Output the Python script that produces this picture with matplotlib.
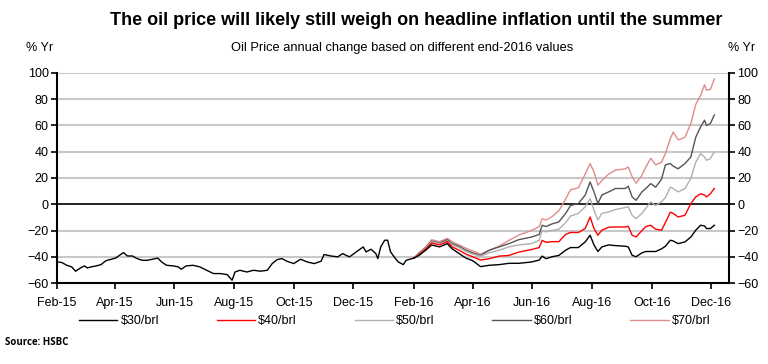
import pandas as pd
import matplotlib.pyplot as plt
import matplotlib.dates as mdates

plt.rcParams['font.family'] = ['Liberation Sans', 'DejaVu Sans']

# historia 2015 - styczeń 2016 (tylko seria $30/brl jest widoczna)
hist_dates = ["2015-02-01", "2015-02-06", "2015-02-11", "2015-02-16", "2015-02-20", "2015-02-24",
              "2015-03-01", "2015-03-04", "2015-03-08", "2015-03-13", "2015-03-18", "2015-03-23",
              "2015-03-28", "2015-04-02", "2015-04-05", "2015-04-10", "2015-04-14", "2015-04-19",
              "2015-04-24", "2015-04-29", "2015-05-04", "2015-05-09", "2015-05-15", "2015-05-19",
              "2015-05-24", "2015-05-31", "2015-06-05", "2015-06-08", "2015-06-13", "2015-06-20",
              "2015-06-27", "2015-07-04", "2015-07-11", "2015-07-18", "2015-07-25", "2015-07-30",
              "2015-08-02", "2015-08-07", "2015-08-14", "2015-08-21", "2015-08-28", "2015-09-04",
              "2015-09-09", "2015-09-14", "2015-09-19", "2015-09-24", "2015-10-01", "2015-10-08",
              "2015-10-15", "2015-10-22", "2015-10-29", "2015-11-01", "2015-11-08", "2015-11-15",
              "2015-11-20", "2015-11-27", "2015-12-04", "2015-12-11", "2015-12-14", "2015-12-19",
              "2015-12-24", "2015-12-26", "2015-12-29", "2016-01-02", "2016-01-05", "2016-01-08",
              "2016-01-13", "2016-01-16", "2016-01-21", "2016-01-24", "2016-01-30"]
hist_values = [-43.9, -44.4, -46.5, -47.7, -51, -49,
               -47, -48.5, -47.7, -47, -46, -43,
               -42, -41, -39.4, -36.8, -39.4, -39.4,
               -41.4, -42.7, -42.7, -42, -41, -44,
               -46.5, -47, -47.7, -49.5, -47, -46.5,
               -47.7, -50.3, -52.8, -52.8, -53.6, -57.9,
               -51.6, -50.3, -51.6, -50.3, -51, -50.3,
               -45.2, -42.2, -41.4, -43.4, -45.2, -41.9,
               -44, -45.2, -43.4, -38.3, -39.4, -40.1,
               -37.6, -40.1, -36.3, -32.5, -36.3, -34.3,
               -37.6, -41.4, -32.5, -27.4, -27.4, -36.3,
               -41.4, -44, -46, -42.7, -41.4]

# scenariusze od lutego 2016
dates_16 = ["2016-02-01", "2016-02-06", "2016-02-13", "2016-02-19", "2016-02-27", "2016-03-06",
            "2016-03-11", "2016-03-18", "2016-03-25", "2016-04-01", "2016-04-09", "2016-04-18",
            "2016-04-28", "2016-05-08", "2016-05-18", "2016-05-31", "2016-06-08", "2016-06-11",
            "2016-06-15", "2016-06-21", "2016-06-28", "2016-07-05", "2016-07-10", "2016-07-18",
            "2016-07-25", "2016-07-30", "2016-08-03", "2016-08-07", "2016-08-11", "2016-08-18",
            "2016-08-25", "2016-09-04", "2016-09-07", "2016-09-11", "2016-09-15", "2016-09-21",
            "2016-09-25", "2016-09-30", "2016-10-05", "2016-10-11", "2016-10-15", "2016-10-20",
            "2016-10-23", "2016-10-28", "2016-11-04", "2016-11-10", "2016-11-15", "2016-11-20",
            "2016-11-24", "2016-11-26", "2016-11-30", "2016-12-04"]
brl30 = [-41, -39, -35, -31, -32.5, -30, -34, -37.5, -41, -43, -47.5, -46.5,
         -46, -45, -45, -44, -42.5, -39.5, -41.5, -40, -39, -35, -33, -33,
         -28.7, -23.6, -31, -36, -32.5, -31, -31.5, -32, -32.5, -38.9, -40, -37,
         -36, -36, -36, -34, -32, -27.4, -28, -30, -28.7, -25, -19.8, -16,
         -16.5, -18.5, -18.5, -16]
brl40 = [-41, -38.5, -34, -29.5, -31, -28.5, -32.5, -35, -38, -40, -42.5, -41.5,
         -39.5, -39, -36.5, -34.5, -33, -27.5, -29, -28.5, -28.5, -23, -21.5, -21.5,
         -18.5, -9.7, -18.5, -23.6, -19.8, -17.5, -17.3, -17.3, -16.8, -23.6, -25, -20,
         -17, -16, -19, -19.8, -14, -6, -7, -9.7, -8.4, 0.5, 5.6, 8,
         7, 5.6, 8, 12]
brl50 = [-41, -38, -33, -28.5, -30, -28, -31, -33, -36, -38, -39.5, -37,
         -35, -32.5, -31, -30, -27.5, -20, -21, -20, -19, -14, -9, -7,
         -2, 4.3, -4.6, -12, -7, -5.8, -4, -2.5, -2, -8.4, -11, -7,
         -3, 1.8, -1, 2, 5, 13, 12, 9.4, 12, 19.6, 32, 38.6,
         36, 33.5, 34.8, 40]
brl60 = [-41, -37.5, -33, -28, -29.5, -27, -30, -32, -35, -37, -39, -35,
         -32.5, -30, -27, -25, -23, -16, -17, -15, -13.5, -7, -1, 0.5,
         7, 17, 9.4, 0.5, 7, 9.4, 12, 12, 13.7, 5.6, 3, 9.4,
         12, 15.7, 13, 19, 30, 31, 29, 27, 31, 36, 51, 59,
         64, 60, 61.5, 68]
brl70 = [-41, -37, -32.5, -27, -28.5, -26, -28.5, -31, -33.5, -35.5, -38, -35,
         -32, -27.5, -23.5, -20, -17, -11, -12, -9.5, -5, 4, 11, 12.5,
         23, 31, 24.6, 14.5, 18, 23, 26, 27, 28.4, 21, 16, 22,
         28.4, 35, 30, 32, 38.6, 50, 55, 49, 51, 61.5, 76, 83,
         91, 87, 87.5, 95.5]

labels = ["$30/brl", "$40/brl", "$50/brl", "$60/brl", "$70/brl"]
colors = ["#000000", "#ff0000", "#b0b0b0", "#555555", "#e08c8c"]


def main():
    fig = plt.figure(figsize=(7.68, 3.64), dpi=100)
    ax = fig.add_axes([0.0742, 0.2225, 0.875, 0.577])

    d_hist = pd.to_datetime(hist_dates)
    d16 = pd.to_datetime(dates_16)

    for y in range(-40, 101, 20):
        if y != 0:
            ax.axhline(y, color="#c8c8c8", linewidth=1.5, zorder=1)
    ax.axhline(0, color="black", linewidth=1.2, zorder=2)

    series = [brl30, brl40, brl50, brl60, brl70]
    # rysujemy od góry, żeby czarna była na wierzchu
    for vals, lab, col in reversed(list(zip(series, labels, colors))):
        ax.plot(d16, vals, color=col, linewidth=1, label=lab, zorder=3)
    ax.plot(d_hist.append(d16[:1]), hist_values + brl30[:1], color="black", linewidth=1, zorder=4)

    ax.set_ylim(-60, 100)
    ax.set_xlim(pd.Timestamp("2015-02-01"), pd.Timestamp("2016-12-19"))
    ax.set_yticks(range(-60, 101, 20))
    ax.xaxis.set_major_locator(mdates.MonthLocator(bymonth=[2, 4, 6, 8, 10, 12]))
    ax.xaxis.set_major_formatter(mdates.DateFormatter("%b-%y"))

    for s in ["left", "right", "bottom"]:
        ax.spines[s].set_linewidth(1.5)
    ax.spines["top"].set_visible(False)
    ax.tick_params(axis="both", direction="out", length=4, width=1.2, labelsize=9, pad=2)
    ax.tick_params(axis="y", left=True, right=True, labelleft=True, labelright=True)
    ax.tick_params(axis="x", pad=6)

    handles, labs = ax.get_legend_handles_labels()
    order = [labs.index(l) for l in labels]
    fig.legend([handles[i] for i in order], labels, loc="center", bbox_to_anchor=(0.514, 0.118),
               ncol=5, frameon=False, fontsize=9, handlelength=3.1, handletextpad=0.25,
               columnspacing=4.6)

    fig.text(0.542, 0.945, "The oil price will likely still weigh on headline inflation until the summer",
             ha="center", va="center", fontsize=13, fontweight="bold")
    fig.text(0.523, 0.868, "Oil Price annual change based on different end-2016 values",
             ha="center", va="center", fontsize=9.3)
    fig.text(0.052, 0.868, "% Yr", ha="center", va="center", fontsize=9)
    fig.text(0.966, 0.868, "% Yr", ha="center", va="center", fontsize=9)
    fig.text(0.007, 0.058, "Source: HSBC", ha="left", va="center", fontsize=7, fontweight="bold",
             family=["Open Sans", "DejaVu Sans"])

    fig.savefig("out.png", dpi=100)


if __name__ == '__main__':
    main()
